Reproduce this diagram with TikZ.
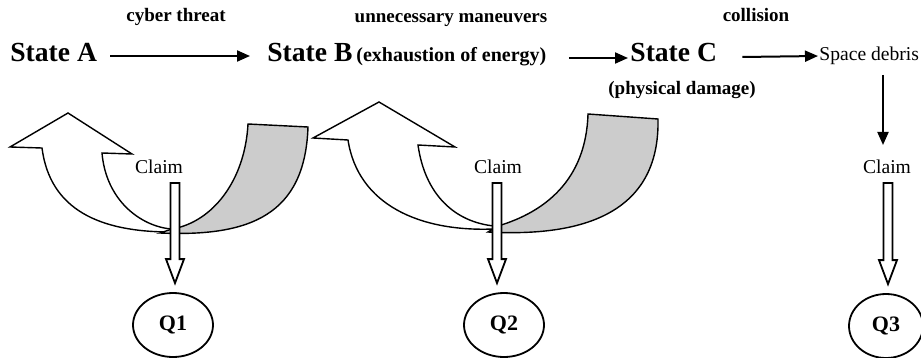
\documentclass[tikz,border=0pt]{standalone}
\usepackage{fontspec}
\setmainfont{Liberation Serif}
\usetikzlibrary{arrows.meta,calc,shapes.geometric}
\newcommand\harrow[3]{\filldraw[hol] let \p1=(#1.base), \p2=(#2.north) in
 (\x2+#3-2.25pt,\y1-5pt) -- (\x2+#3-2.25pt,\y2+16.5pt) -- (\x2+#3-4.5pt,\y2+16.5pt) -- (\x2+#3,\y2+4.5pt) -- (\x2+#3+4.5pt,\y2+16.5pt) -- (\x2+#3+2.25pt,\y2+16.5pt) -- (\x2+#3+2.25pt,\y1-5pt) -- cycle;}
\begin{document}
\begin{tikzpicture}[x=0.5pt,y=-0.5pt,
  lbl/.style={font=\fontsize{9.5}{11}\selectfont\bfseries, inner sep=0, anchor=base},
  big/.style={font=\fontsize{13.8}{16}\selectfont\bfseries, inner sep=0, anchor=base west},
  mid/.style={font=\fontsize{10}{12}\selectfont\bfseries, inner sep=0, anchor=base west},
  reg/.style={font=\fontsize{9.8}{12}\selectfont, inner sep=0, anchor=base west},
  claim/.style={font=\fontsize{9.8}{11}\selectfont, inner sep=0, anchor=base},
  qell/.style={ellipse, draw, line width=0.9pt, minimum width=40pt, minimum height=32pt, inner sep=0, font=\fontsize{11}{13}\selectfont\bfseries},
  arr/.style={line width=1pt, -{Triangle[length=6.5pt,width=5.5pt]}},
  hol/.style={draw=black, fill=white, line width=0.9pt, line join=miter},
  wshape/.style={draw=black, fill=white, line width=0.7pt, line join=miter},
  gshape/.style={draw=black, fill=black!20, line width=0.7pt, line join=miter}
]
\useasboundingbox (0,0) rectangle (921,358);

% curved shapes, group 1
\path[wshape] (171,232) .. controls (100,232) and (50,210) .. (42,148) -- (10,147) -- (68,113) -- (132,154) -- (102,153) .. controls (106,200) and (140,226) .. (171,229) -- cycle;
\path[gshape] (248,124) -- (308,127) .. controls (305,215) and (250,237) .. (160,233) -- (172,229) .. controls (213,222) and (245,180) .. (248,124) -- cycle;

% curved shapes, group 2
\path[wshape] (494,229) .. controls (420,232) and (358,205) .. (348,140) -- (313,138) -- (379,102) -- (455,147) -- (418,145) .. controls (425,195) and (455,222) .. (494,226) -- cycle;
\path[gshape] (588,114) -- (658,119) .. controls (660,215) and (580,237) .. (488,232) -- (498,226) .. controls (545,212) and (586,180) .. (588,114) -- cycle;

% texts
\node[lbl] (cyber) at (176,22) {cyber threat};
\node[lbl] (unnec) at (451,23) {unnecessary maneuvers};
\node[lbl] (coll) at (756,22) {collision};
\node[big] (sa) at (10,62) {State A};
\node[big] (sb) at (267,62) {State B};
\node[mid] (sbx) at (356,62) {(exhaustion of energy)};
\node[big] (sc) at (630,62) {State C};
\node[lbl] (scx) at (682,95) {(physical damage)};
\node[reg] (debris) at (819,61) {Space debris};

\node[claim] (c1) at (159,173) {Claim};
\node[claim] (c2) at (498,173) {Claim};
\node[claim] (c3) at (887,173) {Claim};

\node[qell] (q1) at (173,325) {Q1};
\node[qell] (q2) at (504,325) {Q2};
\node[qell, minimum width=37pt] (q3) at (886,326) {Q3};

% connectors
\draw[arr] ($(sa.base east)+(13,-6)$) -- ($(sb.base west)+(-17,-6)$);
\draw[arr] ($(sbx.base east)+(22,-4)$) -- ($(sc.base west)+(-2,-4)$);
\draw[arr] ($(sc.base east)+(25,-5)$) -- ($(debris.base west)+(-1,-5)$);
\draw[arr] ($(debris.base west)+(64,14)$) -- ($(c3.base)+(-4,-28)$);

\harrow{c1}{q1}{1pt}
\harrow{c2}{q2}{-3.5pt}
\harrow{c3}{q3}{1pt}
\end{tikzpicture}
\end{document}
